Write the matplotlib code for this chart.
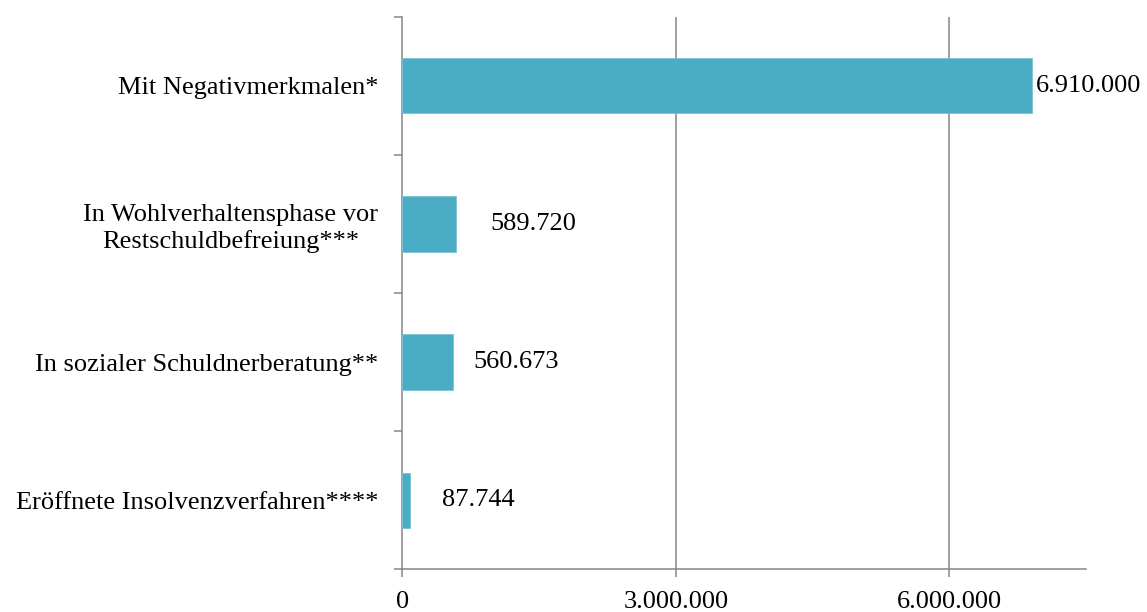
import matplotlib
matplotlib.use("Agg")
import matplotlib.pyplot as plt
from matplotlib.ticker import FuncFormatter, FixedLocator

categories = [
    "Mit Negativmerkmalen*",
    "In Wohlverhaltensphase vor\nRestschuldbefreiung***",
    "In sozialer Schuldnerberatung**",
    "Eröffnete Insolvenzverfahren****",
]
values = [6910000, 589720, 560673, 87744]
x_ticks = [0, 3000000, 6000000]
label_offsets_px = [4, 34, 20, 32]

plt.rcParams["font.family"] = ["Liberation Serif", "DejaVu Serif"]
FS = 19
GRAY = "#868686"
LW = 1.1
BAR = "#4BACC6"

def de(v, pos=None):
    return f"{int(v):,}".replace(",", ".")

fig = plt.figure(figsize=(11.47, 6.12), dpi=100)
ax = fig.add_axes([0.3508, 0.0698, 0.9468 - 0.3508, 0.9727 - 0.0698])

y = list(range(len(categories)))
ax.barh(y, values, height=0.4, color=BAR, edgecolor="#7CC3D6", linewidth=0.6, zorder=3)

for yi, v, off in zip(y, values, label_offsets_px):
    ax.annotate(de(v), xy=(v, yi), xytext=(off * 0.72, 0), textcoords="offset points",
                ha="left", va="center", fontsize=FS, color="black", zorder=4)

ax.set_xlim(0, 7500000)
ax.set_ylim(len(categories) - 0.5, -0.5)

ax.xaxis.set_major_locator(FixedLocator(x_ticks))
ax.xaxis.set_major_formatter(FuncFormatter(de))
ax.tick_params(axis="x", which="major", direction="out", length=8 * 0.72, width=LW,
               color=GRAY, labelsize=FS, pad=10)

ax.set_yticks(y)
ax.set_yticklabels(categories, fontsize=FS, multialignment="center")
ax.tick_params(axis="y", which="major", length=0, pad=24 * 0.72)
ax.yaxis.set_minor_locator(FixedLocator([i - 0.5 for i in range(len(categories) + 1)]))
ax.tick_params(axis="y", which="minor", direction="out", length=8 * 0.72, width=LW, color=GRAY)

for s in ["top", "right"]:
    ax.spines[s].set_visible(False)
for s in ["left", "bottom"]:
    ax.spines[s].set_color(GRAY)
    ax.spines[s].set_linewidth(LW)

for xt in x_ticks[1:]:
    ax.axvline(xt, color=GRAY, linewidth=LW, zorder=1)

fig.savefig("out.png", dpi=100)
